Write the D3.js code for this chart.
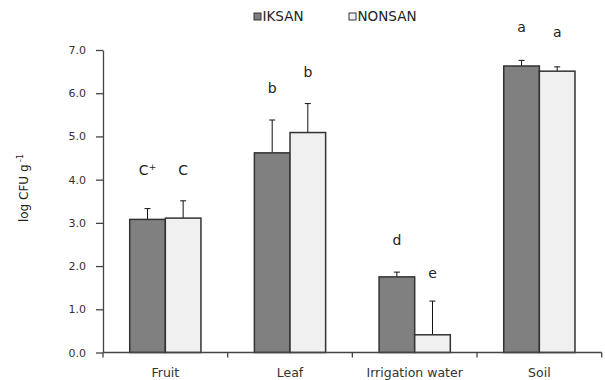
<!DOCTYPE html>
<html>
<head>
<meta charset="utf-8">
<script src="https://cdn.jsdelivr.net/npm/d3@7"></script>
<style>
  body { margin: 0; background: #fff; }
  svg { display: block; font-family: "DejaVu Sans", Verdana, sans-serif; }
</style>
</head>
<body>
<script>
// data
var categories = ["Fruit", "Leaf", "Irrigation water", "Soil"];
var series = ["IKSAN", "NONSAN"];
var iksan = [3.08, 4.62, 1.75, 6.63];
var iksanErr = [0.25, 0.76, 0.11, 0.13];
var nonsan = [3.11, 5.09, 0.41, 6.51];
var nonsanErr = [0.40, 0.67, 0.78, 0.10];
// significance letters and the height (in log CFU) where they sit
var iksanLetters = ["C+", "b", "d", "a"];
var iksanLetterY = [4.11, 6.0, 2.49, 7.42];
var nonsanLetters = ["C", "b", "e", "a"];
var nonsanLetterY = [4.11, 6.38, 1.72, 7.30];
var yTicks = [0, 1, 2, 3, 4, 5, 6, 7];

var width = 605, height = 380;
var colors = { IKSAN: "#808080", NONSAN: "#f0f0f0" };

var svg = d3.select("body").append("svg")
  .attr("width", width)
  .attr("height", height);

// scales
var x0 = d3.scaleBand()
  .domain(categories)
  .range([103, 601.7])
  .padding(0);

var x1 = d3.scaleBand()
  .domain(series)
  .range([0, x0.bandwidth()])
  .paddingInner(0)
  .paddingOuter(0.75);

var y = d3.scaleLinear()
  .domain([0, 7])
  .range([352.5, 50]);

// build rows for each bar
var rows = [];
categories.forEach(function(c, i) {
  rows.push({ cat: c, s: "IKSAN", v: iksan[i], e: iksanErr[i], l: iksanLetters[i], ly: iksanLetterY[i] });
  rows.push({ cat: c, s: "NONSAN", v: nonsan[i], e: nonsanErr[i], l: nonsanLetters[i], ly: nonsanLetterY[i] });
});

function cx(d) {
  return x0(d.cat) + x1(d.s) + x1.bandwidth() / 2;
}

// error bars (drawn first so bar outline covers base)
var err = svg.append("g").attr("stroke", "#111").attr("stroke-width", 1);
err.selectAll(".stem")
  .data(rows)
  .enter().append("line")
  .attr("x1", cx).attr("x2", cx)
  .attr("y1", function(d) { return y(d.v); })
  .attr("y2", function(d) { return y(d.v + d.e); });
err.selectAll(".cap")
  .data(rows)
  .enter().append("line")
  .attr("x1", function(d) { return cx(d) - 3; })
  .attr("x2", function(d) { return cx(d) + 3; })
  .attr("y1", function(d) { return y(d.v + d.e); })
  .attr("y2", function(d) { return y(d.v + d.e); });

// bars
svg.append("g").selectAll("rect")
  .data(rows)
  .enter().append("rect")
  .attr("x", function(d) { return x0(d.cat) + x1(d.s); })
  .attr("y", function(d) { return y(d.v); })
  .attr("width", x1.bandwidth())
  .attr("height", function(d) { return y(0) - y(d.v); })
  .attr("fill", function(d) { return colors[d.s]; })
  .attr("stroke", "#333")
  .attr("stroke-width", 1.5);

// letters
var letters = svg.append("g")
  .attr("font-size", "14px")
  .attr("fill", "#222")
  .attr("text-anchor", "middle");
rows.forEach(function(d) {
  var t = letters.append("text")
    .attr("x", cx(d))
    .attr("y", y(d.ly));
  t.append("tspan").text(d.l[0]);
  if (d.l.length > 1) {
    t.append("tspan")
      .attr("font-size", "9px")
      .attr("dy", "-5")
      .text(d.l.slice(1));
  }
});

// y axis
var yAxis = svg.append("g")
  .attr("transform", "translate(103,0)")
  .call(d3.axisLeft(y)
    .tickValues(yTicks)
    .tickFormat(d3.format(".1f"))
    .tickSize(7)
    .tickSizeOuter(0)
    .tickPadding(10));
yAxis.selectAll("path, line").attr("stroke", "#444").attr("stroke-width", 1.3);
yAxis.selectAll("text").attr("font-size", "11px").attr("fill", "#333")
  .attr("font-family", "DejaVu Sans, Verdana, sans-serif");

// x axis: baseline with ticks at band boundaries
var xAxis = svg.append("g").attr("stroke", "#444").attr("stroke-width", 1.3);
xAxis.append("line")
  .attr("x1", x0.range()[0]).attr("x2", x0.range()[1])
  .attr("y1", y(0)).attr("y2", y(0));
var bounds = categories.map(function(c) { return x0(c); }).concat([x0.range()[1]]);
xAxis.selectAll(".tick")
  .data(bounds)
  .enter().append("line")
  .attr("x1", function(d) { return d; }).attr("x2", function(d) { return d; })
  .attr("y1", y(0)).attr("y2", y(0) + 5);

svg.append("g").selectAll("text")
  .data(categories)
  .enter().append("text")
  .attr("x", function(d) { return x0(d) + x0.bandwidth() / 2; })
  .attr("y", 377)
  .attr("text-anchor", "middle")
  .attr("font-size", "12.5px")
  .attr("fill", "#333")
  .text(function(d) { return d; });

// y label
var ylab = svg.append("text")
  .attr("transform", "translate(28,188) rotate(-90)")
  .attr("text-anchor", "middle")
  .attr("font-size", "12px")
  .attr("fill", "#222");
ylab.append("tspan").text("log CFU g");
ylab.append("tspan").attr("font-size", "8px").attr("dy", "-5").text(" -1");

// legend
var legendX = [254, 349];
var legend = svg.append("g").selectAll("g")
  .data(series)
  .enter().append("g")
  .attr("transform", function(d, i) { return "translate(" + legendX[i] + ",13)"; });
legend.append("rect")
  .attr("width", 7).attr("height", 7)
  .attr("fill", function(d) { return colors[d]; })
  .attr("stroke", "#333");
legend.append("text")
  .attr("x", 8.5).attr("y", 8)
  .attr("font-size", "13.5px")
  .attr("fill", "#222")
  .text(function(d) { return d; });
</script>
</body>
</html>
